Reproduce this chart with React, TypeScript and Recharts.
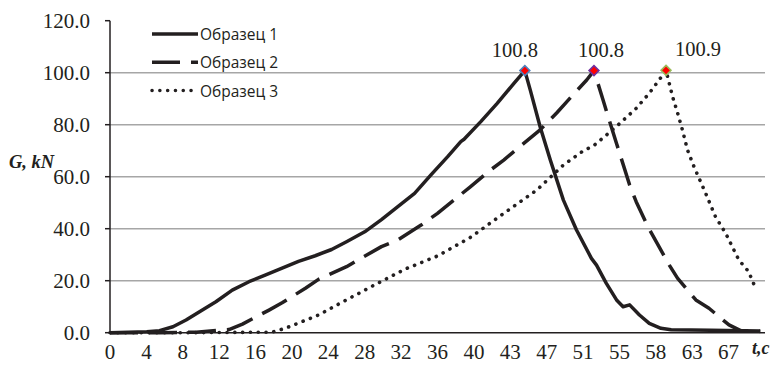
import React from 'react';
import { LineChart, Line, XAxis, YAxis, CartesianGrid, Legend } from 'recharts';

// category labels shown under the axis (evenly spaced, one per tick index)
const tLabels = ['0', '4', '8', '12', '16', '20', '24', '28', '32', '36', '40', '43', '47', '51', '55', '58', '63', '67'];
const yTicks = [0, 20, 40, 60, 80, 100, 120];
const gridValues = [20, 40, 60, 80, 100];
const seriesNames = ['Образец 1', 'Образец 2', 'Образец 3'];

// x = position along the category axis, in tick-index units
const pos1 = [0, 1.01, 1.36, 1.73, 2.09, 2.46, 2.91, 3.36, 3.82, 4.28, 4.73, 5.18, 5.64, 6.09, 6.5, 7.0, 7.46, 7.91, 8.37, 8.82, 9.28, 9.64, 9.73, 10.19, 10.64, 11.1, 11.4, 11.55, 11.82, 12.1, 12.46, 12.82, 13.23, 13.37, 13.64, 13.92, 14.1, 14.28, 14.55, 14.82, 15.14, 15.42, 16.5, 17.87];
const g1 = [0, 0.4, 0.8, 2.3, 4.9, 8.1, 11.9, 16.4, 19.6, 22.2, 24.8, 27.4, 29.6, 32, 35, 38.8, 43.5, 48.5, 53.6, 60.7, 67.7, 73.5, 74.4, 81.2, 88.2, 95.9, 100.8, 93.3, 79.2, 66.4, 51, 39.5, 28.6, 26, 19, 12.6, 10, 10.7, 6.8, 3.6, 1.7, 1.1, 0.9, 0.7];

const pos2 = [0, 1.36, 2.37, 3.27, 3.64, 4.37, 4.73, 5.37, 5.73, 6.5, 6.82, 7.46, 7.91, 8.55, 9.0, 9.91, 10.46, 10.82, 11.37, 11.82, 12.28, 12.55, 13.1, 13.3, 13.55, 13.69, 13.92, 14.28, 14.46, 14.78, 15.01, 15.37, 15.6, 16.1, 16.46, 17.01, 17.33, 17.87];
const g2 = [0, 0, 0.2, 1.2, 3.3, 8.7, 11.5, 17.1, 20.5, 25.4, 28, 33.1, 35.7, 41.4, 45.9, 56.2, 62.6, 66.4, 72.8, 78, 84.6, 88.8, 97.2, 100.8, 89.5, 83.1, 72.8, 56.8, 50.4, 40.8, 35, 26, 20.9, 12.6, 9.4, 3, 0.8, 0.5];

const pos3 = [0, 2.18, 4.45, 4.82, 5.27, 5.73, 6.28, 7.18, 8.1, 9.0, 9.91, 10.82, 11.73, 12.46, 13.01, 13.28, 13.64, 14.01, 14.46, 14.82, 15.19, 15.28, 15.46, 15.6, 15.73, 15.87, 16.05, 16.37, 16.64, 16.92, 17.28, 17.55, 17.74];
const g3 = [0, 0, 0.2, 1.7, 4.2, 6.8, 11, 17.7, 24.4, 29.5, 36.7, 45.9, 54.9, 64.5, 70, 71.8, 76, 80.5, 86.3, 92.1, 99.1, 100.9, 90.8, 84.4, 78, 70.3, 63.8, 53.6, 44.6, 38.2, 28, 23.5, 17.1];

const toRows = (xs: number[], ys: number[]) => xs.map((x, i) => ({ x, g: ys[i] }));
const series = [toRows(pos1, g1), toRows(pos2, g2), toRows(pos3, g3)];
const peakIdx = [g1, g2, g3].map((arr) => arr.indexOf(Math.max(...arr)));

const INK = '#231f20';
const dashes = [undefined, '28 11', '0.1 7.7'];
const caps: ('butt' | 'round')[] = ['butt', 'butt', 'round'];
const peakRing = ['#4f81bd', '#7030a0', '#9bbb59'];
const labelShift = [-10, 7, 32];

const serif = '"Liberation Serif", "Times New Roman", serif';

const peakDot = (s: number) => (props: any) => {
  const { cx, cy, index } = props;
  if (index !== peakIdx[s]) return <g key={`d${s}-${index}`} />;
  return (
    <g key={`d${s}-${index}`}>
      <path
        d={`M${cx},${cy - 5}L${cx + 5},${cy}L${cx},${cy + 5}L${cx - 5},${cy}Z`}
        fill="#ff0000"
        stroke={peakRing[s]}
        strokeWidth={1.5}
      />
      <text x={cx + labelShift[s]} y={cy - 14} textAnchor="middle" fontFamily={serif} fontSize={20.5} fill={INK}>
        {series[s][index].g.toFixed(1)}
      </text>
    </g>
  );
};

const renderLegend = () => (
  <svg width={180} height={82}>
    {seriesNames.map((n, i) => {
      const y = 12 + i * 28.3;
      return (
        <g key={n}>
          <line x1={2} x2={48} y1={y} y2={y} stroke={INK} strokeWidth={3.5}
            strokeDasharray={dashes[i]} strokeLinecap={caps[i]} />
          <text x={50} y={y} dominantBaseline="central" fontFamily='"Open Sans", sans-serif' fontSize={15.5} fill={INK}>
            {n}
          </text>
        </g>
      );
    })}
  </svg>
);

const App: React.FC = () => {
  return (
    <div style={{ position: 'absolute', left: 0, top: 0, width: 777, height: 366, background: '#fff' }}>
      <LineChart width={777} height={366} margin={{ top: 20.7, right: 12, left: 0, bottom: 3.3 }}>
        <CartesianGrid vertical={false} horizontalValues={gridValues} stroke="#a6a6a6" strokeWidth={1.5} />
        <XAxis
          type="number"
          dataKey="x"
          domain={[0, 17.87]}
          ticks={tLabels.map((_, i) => i)}
          tickFormatter={(v: number) => tLabels[v] ?? ''}
          allowDecimals={false}
          height={30}
          tickLine={false}
          tickMargin={5}
          axisLine={{ stroke: INK, strokeWidth: 1.5 }}
          tick={{ fill: INK, fontFamily: serif, fontSize: 21 }}
          interval={0}
          label={() => (
            <text x={752} y={354} fontFamily={serif} fontSize={18} fontWeight="bold" fontStyle="italic" fill={INK}>
              t,c
            </text>
          )}
        />
        <YAxis
          type="number"
          domain={[0, 120]}
          ticks={yTicks}
          width={110}
          tickSize={5}
          tickMargin={15}
          interval={0}
          tickFormatter={(v: number) => v.toFixed(1)}
          axisLine={{ stroke: INK, strokeWidth: 1.5 }}
          tickLine={{ stroke: INK, strokeWidth: 1.5 }}
          tick={{ fill: INK, fontFamily: serif, fontSize: 21 }}
          label={() => (
            <text x={9} y={168} fontFamily={serif} fontSize={18.5} fontWeight="bold" fontStyle="italic" fill={INK}>
              G, kN
            </text>
          )}
        />
        <Legend
          layout="horizontal"
          verticalAlign="middle"
          align="center"
          content={renderLegend}
          wrapperStyle={{ left: 150, top: 22, width: 180, height: 82 }}
        />
        {series.map((rows, s) => (
          <Line
            key={seriesNames[s]}
            data={rows}
            dataKey="g"
            name={seriesNames[s]}
            type="linear"
            stroke={INK}
            strokeWidth={s === 2 ? 3.6 : 3.5}
            strokeDasharray={dashes[s]}
            strokeLinecap={caps[s]}
            strokeLinejoin="round"
            dot={peakDot(s)}
            activeDot={false}
            isAnimationActive={false}
          />
        ))}
      </LineChart>
    </div>
  );
};

export default App;
